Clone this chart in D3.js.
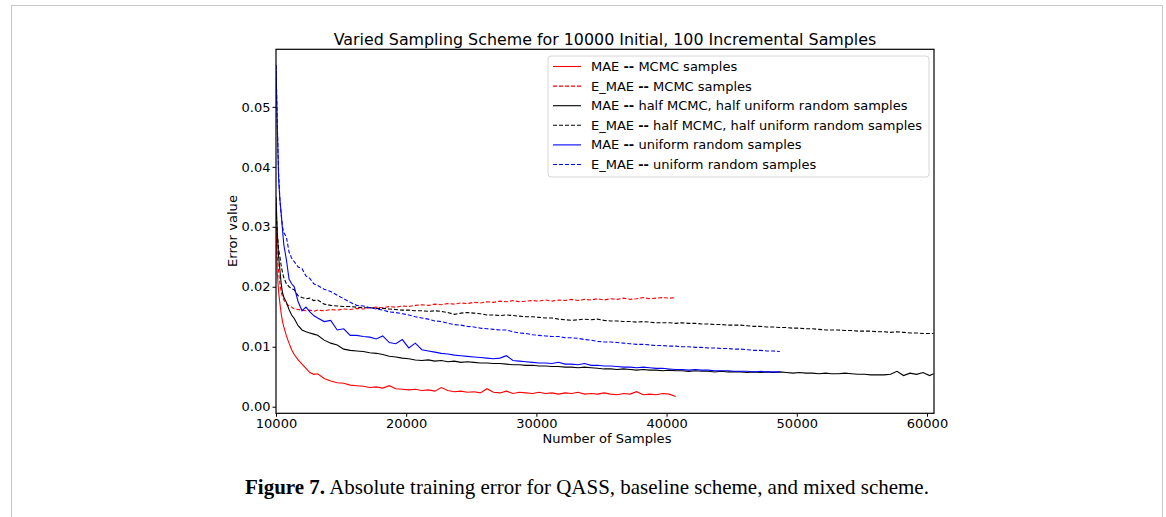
<!DOCTYPE html>
<html>
<head>
<meta charset="utf-8">
<script src="https://cdn.jsdelivr.net/npm/d3@7"></script>
<style>
  body { margin: 0; background: #fff; }
  svg { display: block; }
  text { font-family: "DejaVu Sans", sans-serif; fill: #000; }
</style>
</head>
<body>
<svg id="chart" width="1166" height="517"></svg>
<script>
// sample counts (x grid shared by all runs)
var sampleCounts = [10000,10100,10200,10300,10400,10500,10600,10800,11000,11200,11400,11700,12000,12300,12600,12900,13200,
  13700,14200,14700,15200,15700,16200,16700,17200,17700,18200,18700,19200,19700,20200,20700,21200,21700,22200,22700,23200,
  23700,24200,24700,25200,25700,26200,26700,27200,27700,28200,28700,29200,29700,30200,30700,31200,31700,32200,32700,33200,
  33700,34200,34700,35200,35700,36200,36700,37200,37700,38200,38700,39200,39700,40200,40700,41200,41700,42200,42700,43200,
  43700,44200,44700,45200,45700,46200,46700,47200,47700,48200,48700,49200,49700,50200,50700,51200,51700,52200,52700,53200,
  53700,54200,54700,55200,55700,56200,56700,57200,57700,58200,58700,59200,59700,60200,60500];

var maeMcmc = [0.0300,0.0222,0.0192,0.0172,0.0155,0.0142,0.0133,0.0118,0.0106,0.0095,0.0087,0.0078,0.0071,0.0064,0.0057,0.0054,0.0055,
  0.0047,0.0043,0.0040,0.0039,0.0036,0.0035,0.0034,0.0032,0.0033,0.0031,0.0035,0.0030,0.0029,0.0028,0.0029,0.0027,0.0028,0.0026,0.0032,0.0027,
  0.0025,0.0026,0.0024,0.0025,0.0023,0.0030,0.0024,0.0023,0.0026,0.0022,0.0024,0.0023,0.0022,0.0024,0.0022,0.0023,0.0021,0.0023,0.0022,0.0024,
  0.0021,0.0022,0.0021,0.0023,0.0021,0.0020,0.0022,0.0021,0.0025,0.0020,0.0021,0.0020,0.0022,0.0021,0.0017];

var emaeMcmc = [0.0290,0.0250,0.0225,0.0205,0.0192,0.0183,0.0178,0.0172,0.0168,0.0166,0.0163,0.0162,0.0161,0.0160,0.0161,0.0159,0.0161,
  0.0160,0.0162,0.0161,0.0163,0.0162,0.0164,0.0163,0.0165,0.0166,0.0165,0.0167,0.0166,0.0168,0.0167,0.0169,0.0170,0.0169,0.0171,0.0170,0.0172,
  0.0171,0.0173,0.0172,0.0174,0.0173,0.0175,0.0174,0.0176,0.0175,0.0177,0.0175,0.0176,0.0177,0.0176,0.0178,0.0176,0.0178,0.0177,0.0179,0.0177,
  0.0179,0.0178,0.0180,0.0178,0.0180,0.0179,0.0181,0.0179,0.0180,0.0182,0.0180,0.0181,0.0182,0.0181,0.0182];

var maeHalf = [0.0350,0.0290,0.0250,0.0228,0.0205,0.0190,0.0183,0.0174,0.0162,0.0153,0.0147,0.0135,0.0128,0.0125,0.0123,0.0121,0.0119,
  0.0111,0.0106,0.0103,0.0096,0.0094,0.0093,0.0092,0.0090,0.0089,0.0087,0.0084,0.0083,0.0081,0.0080,0.0078,0.0077,0.0078,0.0076,0.0077,0.0075,
  0.0076,0.0074,0.0075,0.0074,0.0073,0.0073,0.0072,0.0072,0.0071,0.0070,0.0070,0.0069,0.0069,0.0068,0.0068,0.0067,0.0067,0.0066,0.0066,0.0065,
  0.0066,0.0065,0.0064,0.0063,0.0063,0.0062,0.0063,0.0062,0.0061,0.0062,0.0061,0.0061,0.0060,0.0061,0.0060,0.0060,0.0059,0.0060,0.0059,0.0059,
  0.0058,0.0059,0.0058,0.0058,0.0058,0.0057,0.0058,0.0057,0.0058,0.0057,0.0058,0.0057,0.0056,0.0057,0.0056,0.0056,0.0055,0.0056,0.0055,0.0055,
  0.0056,0.0055,0.0054,0.0054,0.0053,0.0053,0.0053,0.0054,0.0059,0.0052,0.0056,0.0054,0.0057,0.0052,0.0055];

var emaeHalf = [0.0330,0.0290,0.0262,0.0250,0.0235,0.0224,0.0215,0.0205,0.0200,0.0197,0.0195,0.0185,0.0182,0.0180,0.0181,0.0177,0.0178,
  0.0171,0.0169,0.0168,0.0167,0.0167,0.0166,0.0165,0.0165,0.0164,0.0164,0.0163,0.0162,0.0161,0.0161,0.0160,0.0160,0.0159,0.0160,0.0159,0.0157,
  0.0154,0.0156,0.0157,0.0156,0.0155,0.0153,0.0153,0.0152,0.0153,0.0152,0.0151,0.0150,0.0150,0.0149,0.0148,0.0148,0.0146,0.0145,0.0144,0.0145,
  0.0146,0.0145,0.0146,0.0144,0.0143,0.0143,0.0142,0.0142,0.0141,0.0142,0.0141,0.0140,0.0140,0.0140,0.0139,0.0140,0.0139,0.0139,0.0138,0.0138,
  0.0137,0.0137,0.0136,0.0136,0.0136,0.0135,0.0134,0.0134,0.0133,0.0133,0.0132,0.0132,0.0131,0.0131,0.0130,0.0130,0.0129,0.0128,0.0128,0.0128,
  0.0127,0.0127,0.0126,0.0126,0.0126,0.0125,0.0125,0.0124,0.0125,0.0124,0.0123,0.0123,0.0122,0.0122,0.0122];

var maeUniform = [0.0570,0.0467,0.0380,0.0345,0.0322,0.0295,0.0270,0.0245,0.0213,0.0205,0.0200,0.0175,0.0160,0.0166,0.0158,0.0152,0.0148,
  0.0142,0.0144,0.0128,0.0130,0.0119,0.0119,0.0117,0.0116,0.0113,0.0118,0.0107,0.0105,0.0112,0.0098,0.0106,0.0095,0.0093,0.0091,0.0089,0.0088,
  0.0086,0.0085,0.0084,0.0083,0.0082,0.0081,0.0080,0.0081,0.0085,0.0077,0.0076,0.0075,0.0074,0.0073,0.0073,0.0072,0.0074,0.0071,0.0071,0.0070,
  0.0072,0.0069,0.0069,0.0068,0.0068,0.0067,0.0066,0.0066,0.0065,0.0066,0.0065,0.0064,0.0064,0.0063,0.0062,0.0062,0.0061,0.0062,0.0061,0.0061,
  0.0060,0.0060,0.0060,0.0059,0.0059,0.0059,0.0058,0.0059,0.0058,0.0058,0.0058];

var emaeUniform = [0.0570,0.0470,0.0390,0.0345,0.0320,0.0300,0.0290,0.0283,0.0258,0.0248,0.0242,0.0233,0.0230,0.0218,0.0214,0.0205,0.0202,
  0.0196,0.0192,0.0186,0.0180,0.0174,0.0169,0.0168,0.0165,0.0163,0.0161,0.0158,0.0157,0.0155,0.0153,0.0150,0.0148,0.0146,0.0143,0.0142,0.0139,
  0.0137,0.0136,0.0134,0.0133,0.0131,0.0130,0.0129,0.0128,0.0128,0.0125,0.0123,0.0122,0.0120,0.0119,0.0118,0.0117,0.0117,0.0115,0.0115,0.0114,
  0.0112,0.0111,0.0109,0.0108,0.0108,0.0107,0.0106,0.0105,0.0104,0.0104,0.0103,0.0102,0.0102,0.0101,0.0101,0.0100,0.0100,0.0099,0.0099,0.0098,
  0.0098,0.0097,0.0097,0.0096,0.0096,0.0095,0.0094,0.0094,0.0093,0.0093,0.0092];

var xTicks = [10000, 20000, 30000, 40000, 50000, 60000];
var yTicks = [0, 0.01, 0.02, 0.03, 0.04, 0.05];

var series = [
  {name: "MAE", rest: " MCMC samples", values: maeMcmc, color: "#ff0000", dash: null},
  {name: "E_MAE", rest: " MCMC samples", values: emaeMcmc, color: "#ff0000", dash: "4,2"},
  {name: "MAE", rest: " half MCMC, half uniform random samples", values: maeHalf, color: "#000000", dash: null},
  {name: "E_MAE", rest: " half MCMC, half uniform random samples", values: emaeHalf, color: "#000000", dash: "4,2"},
  {name: "MAE", rest: " uniform random samples", values: maeUniform, color: "#0000ff", dash: null},
  {name: "E_MAE", rest: " uniform random samples", values: emaeUniform, color: "#0000ff", dash: "4,2"}
];

var svg = d3.select("#chart");
var plot = {left: 276, right: 934, top: 49.3, bottom: 413.3};

// page frame
svg.append("rect")
  .attr("x", 11.5).attr("y", 5.5).attr("width", 1151).attr("height", 530)
  .attr("fill", "none").attr("stroke", "#c8c8c8").attr("stroke-width", 1);

var x = d3.scaleLinear().domain([10000, 60540]).range([plot.left, plot.right]);
var y = d3.scaleLinear().domain([-0.0011, 0.0596]).range([plot.bottom, plot.top]);

svg.append("clipPath").attr("id", "clip")
  .append("rect")
  .attr("x", plot.left).attr("y", plot.top)
  .attr("width", plot.right - plot.left).attr("height", plot.bottom - plot.top);

var line = d3.line()
  .x(function(d, i) { return x(sampleCounts[i]); })
  .y(function(d) { return y(d); });

var lines = svg.append("g").attr("clip-path", "url(#clip)");
series.forEach(function(s) {
  lines.append("path")
    .attr("d", line(s.values))
    .attr("fill", "none")
    .attr("stroke", s.color)
    .attr("stroke-width", 1.1)
    .attr("stroke-dasharray", s.dash);
});

// axes
var xAxis = svg.append("g")
  .attr("transform", "translate(0," + plot.bottom + ")")
  .call(d3.axisBottom(x).tickValues(xTicks).tickFormat(d3.format("d")).tickSizeOuter(0).tickSize(3.5).tickPadding(2));
var yAxis = svg.append("g")
  .attr("transform", "translate(" + plot.left + ",0)")
  .call(d3.axisLeft(y).tickValues(yTicks).tickFormat(d3.format(".2f")).tickSizeOuter(0).tickSize(3.5).tickPadding(2));
[xAxis, yAxis].forEach(function(a) {
  a.select(".domain").remove();
  a.selectAll("text").style("font-family", "DejaVu Sans").style("font-size", "13px").attr("fill", "#000");
  a.selectAll("line").attr("stroke", "#000");
});

svg.append("rect")
  .attr("x", plot.left).attr("y", plot.top)
  .attr("width", plot.right - plot.left).attr("height", plot.bottom - plot.top)
  .attr("fill", "none").attr("stroke", "#000").attr("stroke-width", 1.2);

// text fitted to width
function fitText(sel, width) {
  var w = sel.node().getComputedTextLength();
  var fs = parseFloat(sel.style("font-size"));
  sel.style("font-size", (fs * width / w) + "px");
}

var title = svg.append("text")
  .attr("x", (plot.left + plot.right) / 2).attr("y", 45)
  .attr("text-anchor", "middle")
  .style("font-size", "15px")
  .text("Varied Sampling Scheme for 10000 Initial, 100 Incremental Samples");
fitText(title, 543);

var xl = svg.append("text")
  .attr("x", 607).attr("y", 443)
  .attr("text-anchor", "middle")
  .style("font-size", "13px")
  .text("Number of Samples");
fitText(xl, 129);

var yl = svg.append("text")
  .attr("transform", "translate(237,231) rotate(-90)")
  .attr("text-anchor", "middle")
  .style("font-size", "13px")
  .text("Error value");
fitText(yl, 72);

// legend
var lg = svg.append("g");
lg.append("rect")
  .attr("x", 548).attr("y", 56).attr("width", 381).attr("height", 121)
  .attr("rx", 3).attr("fill", "#fff").attr("fill-opacity", 0.85)
  .attr("stroke", "#d6d6d6").attr("stroke-width", 1);
series.forEach(function(s, i) {
  var yy = 66.5 + i * 19.6;
  lg.append("line")
    .attr("x1", 553).attr("x2", 581).attr("y1", yy).attr("y2", yy)
    .attr("stroke", s.color).attr("stroke-width", 1.1)
    .attr("stroke-dasharray", s.dash);
  var t = lg.append("text").attr("x", 591).attr("y", yy + 4.5).style("font-size", "13px");
  t.append("tspan").text(s.name + " ");
  t.append("tspan").style("font-weight", "bold").text("--");
  t.append("tspan").text(s.rest);
});

// caption
var cap = svg.append("text")
  .attr("x", 587).attr("y", 494)
  .attr("text-anchor", "middle")
  .style("font-family", "Liberation Serif, serif")
  .style("font-size", "21px");
cap.append("tspan").style("font-weight", "bold").text("Figure 7.");
cap.append("tspan").text(" Absolute training error for QASS, baseline scheme, and mixed scheme.");
fitText(cap, 684);
</script>
</body>
</html>
